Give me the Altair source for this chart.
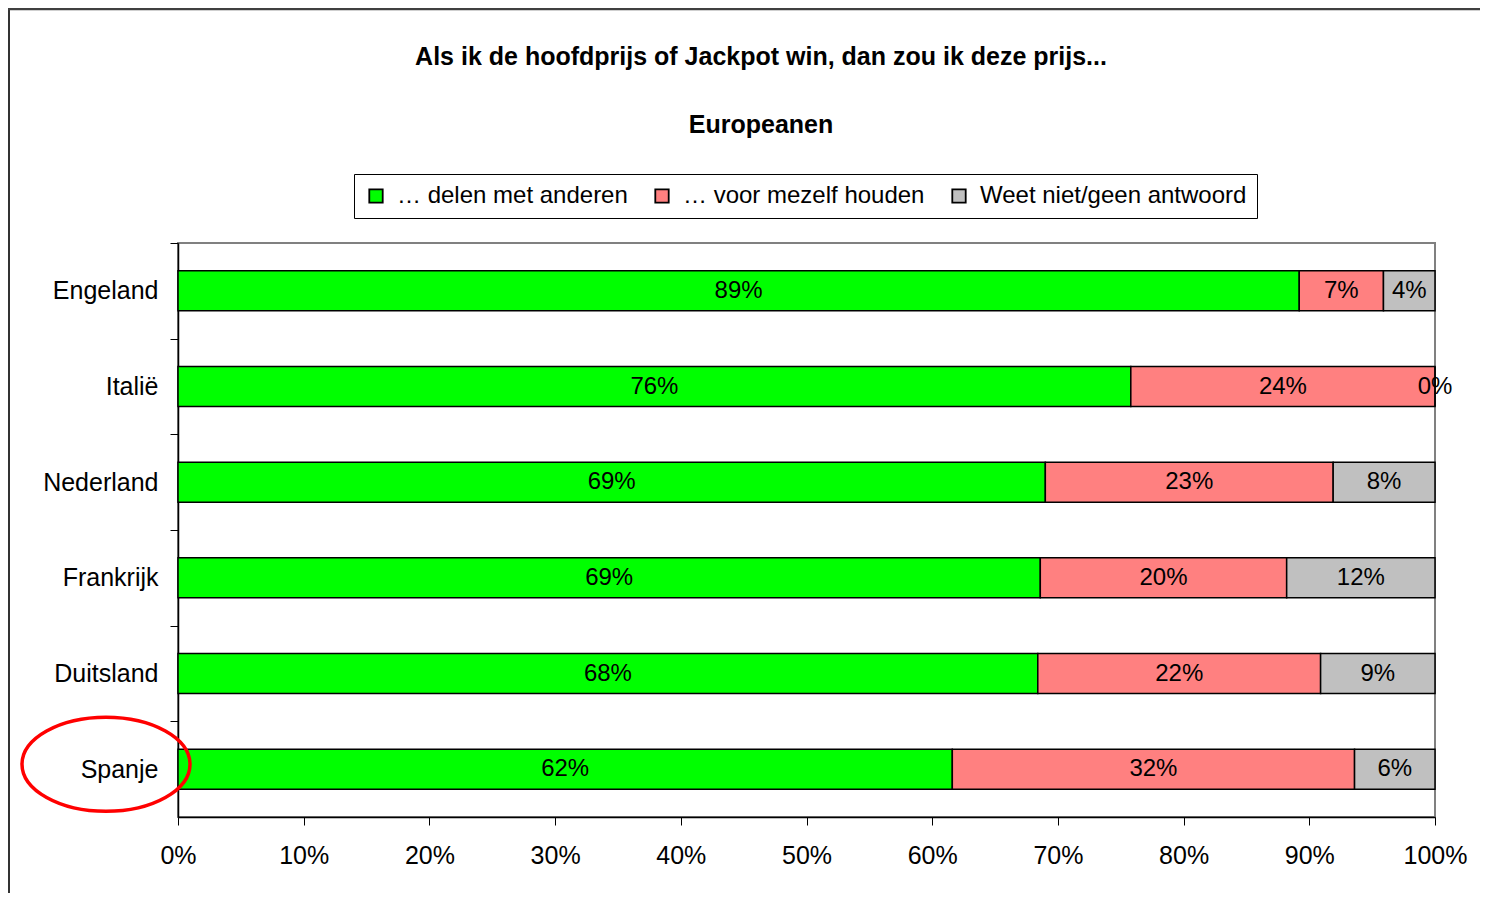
import altair as alt
import pandas as pd

# ---- data ----
countries = ["Engeland", "Italië", "Nederland", "Frankrijk", "Duitsland", "Spanje"]
categories = ["… delen met anderen", "… voor mezelf houden", "Weet niet/geen antwoord"]
share_values = [89.2, 75.8, 69.0, 68.6, 68.4, 61.6]
keep_values = [6.7, 24.2, 22.9, 19.6, 22.5, 32.0]
unknown_values = [4.1, 0.0, 8.1, 11.8, 9.1, 6.4]
share_labels = ["89%", "76%", "69%", "69%", "68%", "62%"]
keep_labels = ["7%", "24%", "23%", "20%", "22%", "32%"]
unknown_labels = ["4%", "0%", "8%", "12%", "9%", "6%"]
x_ticks = [0, 10, 20, 30, 40, 50, 60, 70, 80, 90, 100]
colors = ["#00FF00", "#FF8080", "#C0C0C0"]
title_text = "Als ik de hoofdprijs of Jackpot win, dan zou ik deze prijs..."
subtitle_text = "Europeanen"
highlight = ["Spanje"]

rows = []
series = [(share_values, share_labels), (keep_values, keep_labels), (unknown_values, unknown_labels)]
for i, c in enumerate(countries):
    for k, (vals, labs) in enumerate(series):
        rows.append({"country": c, "category": categories[k], "order": k,
                     "value": vals[i], "label": labs[i]})
df = pd.DataFrame(rows)

W, H = 1257, 574
step = H / len(countries)
FONT = "Liberation Sans"

y_enc = alt.Y(
    "country:N", sort=countries, title=None,
    scale=alt.Scale(paddingInner=0.582, paddingOuter=0.291),
    axis=alt.Axis(domainColor="black", domainWidth=1.5, tickColor="black", tickWidth=1,
                  tickSize=8, tickOffset=-step / 2, labelOffset=step / 2,
                  labelFontSize=25, labelFont=FONT, labelColor="black",
                  labelPadding=12, grid=False),
)

base = alt.Chart(df).transform_stack(
    stack="value", groupby=["country"],
    sort=[alt.SortField("order", order="ascending")], as_=["x0", "x1"]
).transform_calculate(mid="(datum.x0 + datum.x1) / 2")

x_scale = alt.Scale(domain=[0, 100], nice=False)

bars = base.mark_bar(stroke="black", strokeWidth=1.5).encode(
    y=y_enc,
    x=alt.X("x0:Q", scale=x_scale, title=None,
            axis=alt.Axis(values=x_ticks, labelExpr="datum.value + '%'",
                          domainColor="black", domainWidth=1.5, tickColor="black",
                          tickSize=8, labelFontSize=25, labelFont=FONT,
                          labelColor="black", labelPadding=18, labelFlush=False,
                          grid=False)),
    x2="x1:Q",
    color=alt.Color("category:N", scale=alt.Scale(domain=categories, range=colors),
                    legend=alt.Legend(title=None, orient="none", legendX=176, legendY=-69,
                                      direction="horizontal", strokeColor="black",
                                      fillColor="white", padding=10, symbolType="square",
                                      symbolSize=180, symbolStrokeColor="black",
                                      symbolStrokeWidth=1.8, symbolOpacity=1,
                                      labelFontSize=24, labelFont=FONT, labelColor="black",
                                      columnPadding=22, labelOffset=9, labelLimit=0)),
)

labels = base.mark_text(fontSize=24, font=FONT, color="black").encode(
    y=y_enc, x=alt.X("mid:Q", scale=x_scale), text="label:N"
)

ellipse_path = "M -1 0 A 1 0.56 0 1 1 1 0 A 1 0.56 0 1 1 -1 0 Z"
ellipse = alt.Chart(pd.DataFrame({"country": highlight})).mark_point(
    shape=ellipse_path, size=168 * 168, filled=False, color="#FF0000",
    strokeWidth=3.5, opacity=1, yOffset=-5
).encode(y=alt.Y("country:N", sort=countries), x=alt.value(-72))

one = pd.DataFrame({"t": [title_text], "s": [subtitle_text]})
title1 = alt.Chart(one).mark_text(fontSize=25, fontWeight="bold", font=FONT,
                                  color="black", align="center", baseline="middle").encode(
    text="t:N", x=alt.value(583), y=alt.value(-186))
title2 = alt.Chart(one).mark_text(fontSize=25, fontWeight="bold", font=FONT,
                                  color="black", align="center", baseline="middle").encode(
    text="s:N", x=alt.value(583), y=alt.value(-118))

frame_left = alt.Chart(one).mark_rule(color="#333333", strokeWidth=2).encode(
    x=alt.value(-169), y=alt.value(-235), y2=alt.value(700))
frame_top = alt.Chart(one).mark_rule(color="#404040", strokeWidth=2.5).encode(
    x=alt.value(-170), x2=alt.value(1302), y=alt.value(-234))

chart = alt.layer(bars, labels, ellipse, title1, title2, frame_left, frame_top).properties(
    width=W, height=H,
    padding={"left": 170, "top": 235, "right": 45, "bottom": 76},
    autosize=alt.AutoSizeParams(type="none"),
).configure_view(stroke="#808080", strokeWidth=2)

chart.save("out.html", embed_options={"renderer": "svg", "actions": False})
